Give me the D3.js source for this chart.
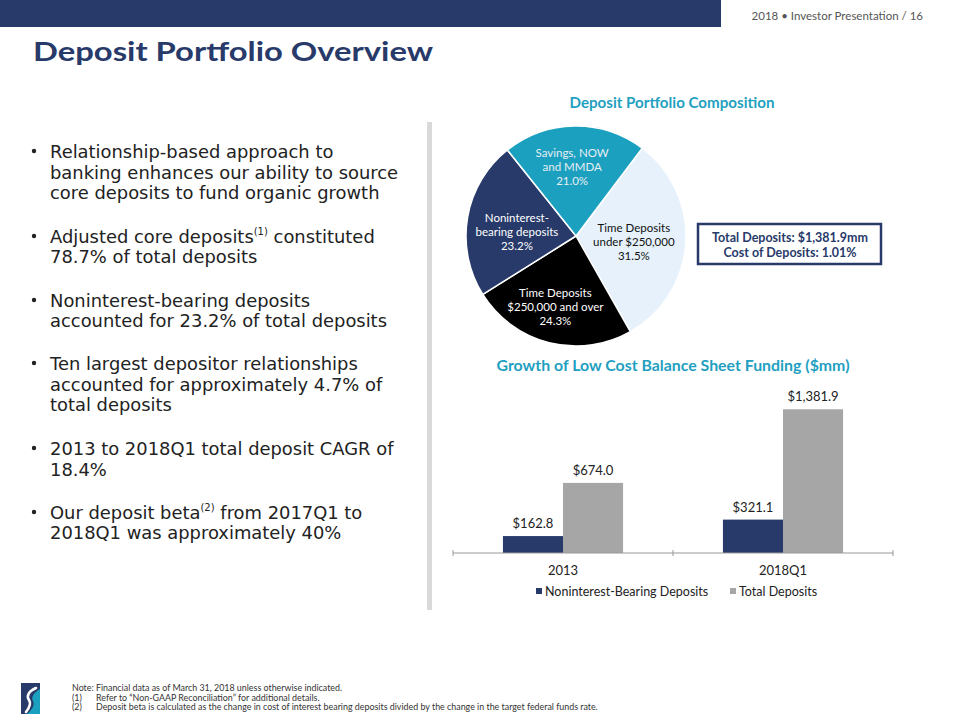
<!DOCTYPE html>
<html lang="en">
<head>
<meta charset="UTF-8">
<script src="https://cdn.jsdelivr.net/npm/d3@7"></script>
<style>
  body { margin: 0; background: #fff; }
  svg { display: block; font-family: Lato, "Open Sans", sans-serif; }
</style>
</head>
<body>
<script>
// ---- data ----
var pieCategories = ["Time Deposits under $250,000", "Time Deposits $250,000 and over", "Noninterest-bearing deposits", "Savings, NOW and MMDA"]
var pieValues = [31.5, 24.3, 23.2, 21.0]
var pieLabelLines = [
  ["Time Deposits", "under $250,000", "31.5%"],
  ["Time Deposits", "$250,000 and over", "24.3%"],
  ["Noninterest-", "bearing deposits", "23.2%"],
  ["Savings, NOW", "and MMDA", "21.0%"]
]
var barCategories = ["2013", "2018Q1"]
var seriesNames = ["Noninterest-Bearing Deposits", "Total Deposits"]
var nonInterestValues = [162.8, 321.1]
var totalValues = [674.0, 1381.9]
var bullets = [
  ["Relationship-based approach to", "banking enhances our ability to source", "core deposits to fund organic growth"],
  ["Adjusted core deposits^(1) constituted", "78.7% of total deposits"],
  ["Noninterest-bearing deposits", "accounted for 23.2% of total deposits"],
  ["Ten largest depositor relationships", "accounted for approximately 4.7% of", "total deposits"],
  ["2013 to 2018Q1 total deposit CAGR of", "18.4%"],
  ["Our deposit beta^(2) from 2017Q1 to", "2018Q1 was approximately 40%"]
]
var notes = [
  ["Note: Financial data as of March 31, 2018 unless otherwise indicated.", ""],
  ["(1)", "Refer to \u201cNon-GAAP Reconciliation\u201d for additional details."],
  ["(2)", "Deposit beta is calculated as the change in cost of interest bearing deposits divided by the change in the target federal funds rate."]
]

var navy = "#283a6a", teal = "#1f9fc1", gray = "#a6a6a6", ink = "#222"

var svg = d3.select("body").append("svg").attr("width", 960).attr("height", 720)

// header
svg.append("rect").attr("x", 0).attr("y", 0).attr("width", 721).attr("height", 27).attr("fill", navy)
svg.append("text").attr("x", 923).attr("y", 20).attr("text-anchor", "end")
  .attr("font-size", 11.5).attr("fill", "#555").text("2018 \u2022 Investor Presentation / 16")
svg.append("text").attr("x", 33).attr("y", 61).attr("font-size", 27).attr("font-weight", "bold")
  .attr("fill", navy).attr("textLength", 400).attr("lengthAdjust", "spacingAndGlyphs")
  .text("Deposit Portfolio Overview")

// bullets
var lineY = [[151, 172, 192], [236, 256], [300, 320], [363, 384, 404], [448, 469], [512, 532]]
bullets.forEach(function(lines, i) {
  svg.append("circle").attr("cx", 34).attr("cy", lineY[i][0]).attr("r", 2.2).attr("fill", ink)
  lines.forEach(function(line, j) {
    var t = svg.append("text").attr("x", 50).attr("y", lineY[i][j] + 6.5)
      .attr("font-family", "'DejaVu Sans', sans-serif").attr("font-size", 17.9).attr("fill", ink)
    var parts = line.split(/\^(\(\d\))/)
    parts.forEach(function(p, k) {
      if (k % 2 === 1) t.append("tspan").attr("font-size", 10).attr("dy", -8).text(p)
      else t.append("tspan").attr("dy", k ? 8 : 0).text(p)
    })
  })
})

// divider
svg.append("rect").attr("x", 427).attr("y", 122).attr("width", 5).attr("height", 488).attr("fill", "#d9d9d9")

// ---- pie ----
svg.append("text").attr("x", 672).attr("y", 108).attr("text-anchor", "middle")
  .attr("font-size", 15).attr("font-weight", "bold").attr("fill", teal)
  .attr("textLength", 205).attr("lengthAdjust", "spacingAndGlyphs").text("Deposit Portfolio Composition")

var pieColors = ["#e6f1fb", "#000000", navy, "#1ba0c0"]
var labelColors = ["#111", "#fff", "#fff", "#e8eef2"]
var labelNudge = [[-6, 2], [-5, 9], [4, 7], [-3, -5]]
var start = 37 * Math.PI / 180
var pie = d3.pie().sort(null).startAngle(start).endAngle(start + 2 * Math.PI)
var arc = d3.arc().innerRadius(0).outerRadius(110)
var labelArc = d3.arc().innerRadius(64).outerRadius(64)
var gp = svg.append("g").attr("transform", "translate(576,236)")
var slices = gp.selectAll(".slice").data(pie(pieValues)).enter().append("g").attr("class", "slice")
slices.append("path").attr("d", arc)
  .attr("fill", function(d, i) { return pieColors[i] })
  .attr("stroke", "#fff").attr("stroke-width", 1.5)
slices.append("text")
  .attr("transform", function(d, i) {
    var c = labelArc.centroid(d)
    return "translate(" + (c[0] + labelNudge[i][0]) + "," + (c[1] + labelNudge[i][1]) + ")"
  })
  .attr("text-anchor", "middle").attr("font-size", 11.5)
  .attr("fill", function(d, i) { return labelColors[i] })
  .selectAll("tspan").data(function(d, i) { return pieLabelLines[i] }).enter().append("tspan")
  .attr("x", 0).attr("y", function(d, j) { return (j - 1) * 14 + 4 }).text(function(d) { return d })

// totals box
svg.append("rect").attr("x", 698).attr("y", 224).attr("width", 183).attr("height", 40)
  .attr("fill", "#fff").attr("stroke", navy).attr("stroke-width", 2.5)
svg.append("text").attr("x", 790).attr("y", 242).attr("text-anchor", "middle").attr("font-size", 12.5)
  .attr("font-weight", "bold").attr("fill", navy).text("Total Deposits: $1,381.9mm")
svg.append("text").attr("x", 790).attr("y", 257).attr("text-anchor", "middle").attr("font-size", 12.5)
  .attr("font-weight", "bold").attr("fill", navy).text("Cost of Deposits: 1.01%")

// ---- bars ----
svg.append("text").attr("x", 673).attr("y", 371).attr("text-anchor", "middle")
  .attr("font-size", 15).attr("font-weight", "bold").attr("fill", teal)
  .attr("textLength", 353).attr("lengthAdjust", "spacingAndGlyphs")
  .text("Growth of Low Cost Balance Sheet Funding ($mm)")

var x0 = d3.scaleBand().domain(barCategories).range([453, 893])
var x1 = d3.scaleBand().domain(seriesNames).range([x0.bandwidth() * 0.227, x0.bandwidth() * 0.773])
var y = d3.scaleLinear().domain([0, 1600]).range([553, 386.6])
var barColors = d3.scaleOrdinal().domain(seriesNames).range([navy, gray])

var groups = svg.selectAll(".grp").data(barCategories).enter().append("g").attr("class", "grp")
  .attr("transform", function(d) { return "translate(" + x0(d) + ",0)" })
var bars = groups.selectAll(".bar").data(function(d, i) {
    return [{ s: seriesNames[0], v: nonInterestValues[i] }, { s: seriesNames[1], v: totalValues[i] }]
  }).enter()
bars.append("rect").attr("x", function(d) { return x1(d.s) }).attr("width", x1.bandwidth())
  .attr("y", function(d) { return y(d.v) }).attr("height", function(d) { return y(0) - y(d.v) })
  .attr("fill", function(d) { return barColors(d.s) })
bars.append("text").attr("x", function(d) { return x1(d.s) + x1.bandwidth() / 2 })
  .attr("y", function(d) { return y(d.v) - 8 }).attr("text-anchor", "middle")
  .attr("font-size", 13).attr("fill", ink).text(function(d) { return "$" + d3.format(",.1f")(d.v) })

var axis = svg.append("g").attr("transform", "translate(0," + y(0) + ")")
axis.append("line").attr("x1", 453).attr("x2", 893).attr("stroke", "#999").attr("stroke-width", 1.2)
axis.selectAll(".tk").data([453, 673, 893]).enter().append("line")
  .attr("x1", function(d) { return d }).attr("x2", function(d) { return d })
  .attr("y1", -3).attr("y2", 3).attr("stroke", "#999")
axis.selectAll(".cat").data(barCategories).enter().append("text")
  .attr("x", function(d) { return x0(d) + x0.bandwidth() / 2 }).attr("y", 22)
  .attr("text-anchor", "middle").attr("font-size", 13).attr("fill", ink).text(function(d) { return d })

// legend
var legX = [536, 730]
seriesNames.forEach(function(s, i) {
  svg.append("rect").attr("x", legX[i]).attr("y", 588).attr("width", 6).attr("height", 6).attr("fill", barColors(s))
  svg.append("text").attr("x", legX[i] + 9).attr("y", 596).attr("font-size", 12.5).attr("fill", ink).text(s)
})

// footer logo: navy block, teal lower-right, white swirl between
var logo = svg.append("g").attr("transform", "translate(21,683)")
logo.append("rect").attr("width", 19).attr("height", 31).attr("fill", navy)
logo.append("path").attr("d", "M19,6 C12,10 10,15 12,18 C14,22 11,27 6,31 L19,31 Z").attr("fill", "#1ba0c0")
logo.append("path").attr("d", "M15,5 C8,8 5,13 8,17 C10,20 9,24 5,29")
  .attr("fill", "none").attr("stroke", "#fff").attr("stroke-width", 2.6).attr("stroke-linecap", "round")

notes.forEach(function(n, i) {
  svg.append("text").attr("x", 72).attr("y", 691 + i * 9.5).attr("font-size", 8.9).attr("fill", "#333").text(n[0])
  if (n[1]) svg.append("text").attr("x", 96).attr("y", 691 + i * 9.5).attr("font-size", 8.9).attr("fill", "#333").text(n[1])
})
</script>
</body>
</html>
